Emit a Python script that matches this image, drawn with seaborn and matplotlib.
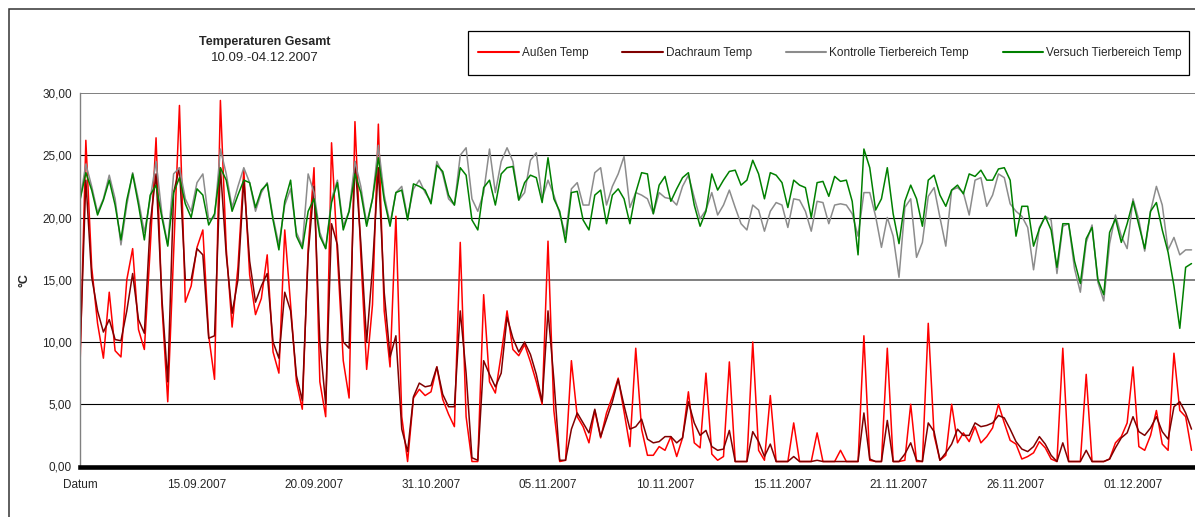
import numpy as np
import pandas as pd
import matplotlib
matplotlib.use("Agg")
import matplotlib.pyplot as plt
import seaborn as sns
from matplotlib.lines import Line2D
from matplotlib.patches import Rectangle

# ---------------- data (4 readings per day, index = reading number) ----------------
series_names = ["Außen Temp", "Dachraum Temp", "Kontrolle Tierbereich Temp", "Versuch Tierbereich Temp"]

aussen = [
    8.0, 26.2, 16.0, 11.5, 8.7, 14.0, 9.3, 8.8, 15.0, 17.5,
    11.0, 9.4, 17.5, 26.4, 13.0, 5.2, 17.0, 29.0, 13.2, 14.5,
    17.6, 19.0, 10.5, 7.0, 29.4, 17.5, 11.2, 16.0, 23.8, 15.4,
    12.2, 13.5, 17.0, 9.2, 7.5, 19.0, 13.0, 6.8, 4.6, 17.5,
    24.0, 6.8, 4.0, 26.0, 17.0, 8.5, 5.5, 27.7, 17.0, 7.8,
    13.0, 27.5, 12.5, 8.0, 20.1, 4.0, 0.4, 5.5, 6.2, 5.7,
    6.0, 8.0, 5.4, 4.2, 3.2, 18.0, 4.0, 0.4, 0.4, 13.8,
    6.8, 5.9, 9.0, 12.5, 9.4, 8.9, 9.8, 8.4, 6.8, 5.0,
    18.1, 4.5, 0.4, 0.5, 8.5, 4.0, 3.2, 1.9, 4.5, 2.3,
    4.3, 5.6, 7.1, 4.4, 1.6, 9.5, 3.0, 0.9, 0.9, 1.6,
    1.3, 2.4, 0.8, 2.3, 6.0, 1.9, 1.5, 7.5, 1.0, 0.5,
    0.8, 8.4, 0.4, 0.4, 0.4, 10.0, 1.3, 0.5, 5.7, 0.4,
    0.4, 0.4, 3.5, 0.4, 0.4, 0.4, 2.7, 0.4, 0.4, 0.4,
    1.3, 0.4, 0.4, 0.4, 10.5, 0.5, 0.4, 0.4, 9.5, 0.4,
    0.4, 0.5, 5.0, 0.4, 0.4, 11.5, 2.5, 0.5, 0.9, 5.0,
    1.9, 2.7, 2.0, 3.2, 1.9, 2.4, 3.1, 5.0, 3.5, 2.1,
    1.8, 0.6, 0.8, 1.1, 2.0, 1.5, 0.6, 0.4, 9.5, 0.4,
    0.4, 0.4, 7.4, 0.4, 0.4, 0.4, 0.6, 1.9, 2.4, 3.5,
    8.0, 1.6, 1.3, 2.5, 4.5, 1.8, 1.3, 9.1, 4.5, 4.0,
    1.3,
]

dachraum = [
    9.0, 23.0, 15.2, 12.5, 10.8, 11.8, 10.2, 10.1, 12.5, 15.5,
    11.8, 10.7, 19.5, 23.5, 13.5, 6.8, 22.0, 24.0, 15.0, 15.0,
    17.5, 17.0, 10.3, 10.5, 24.0, 17.0, 12.3, 15.0, 23.0, 16.5,
    13.2, 14.5, 15.5, 10.0, 8.7, 14.0, 12.5, 7.3, 5.3, 17.0,
    22.5, 10.0, 5.0, 19.5, 17.8, 10.0, 9.5, 24.5, 18.0, 10.0,
    16.0, 24.0, 14.0, 8.8, 10.5, 3.0, 1.2, 5.6, 6.7, 6.4,
    6.5, 8.0, 5.8, 4.8, 4.8, 12.5, 7.5, 0.7, 0.5, 8.5,
    7.4, 6.4, 7.5, 12.0, 10.3, 9.2, 10.0, 9.0, 7.4, 5.2,
    12.5, 7.0, 0.5, 0.5, 3.0, 4.3, 3.5, 2.7, 4.6, 2.4,
    3.8, 5.2, 7.0, 4.9, 3.0, 3.2, 3.8, 2.2, 1.9, 2.0,
    2.4, 2.4, 1.9, 2.3, 5.2, 3.5, 2.5, 2.9, 1.6, 1.3,
    1.4, 2.9, 0.4, 0.4, 0.4, 2.8, 2.0, 0.8, 1.8, 0.4,
    0.4, 0.4, 0.8, 0.4, 0.4, 0.4, 0.5, 0.4, 0.4, 0.4,
    0.4, 0.4, 0.4, 0.4, 4.3, 0.6, 0.4, 0.4, 3.7, 0.4,
    0.4, 1.0, 1.9, 0.5, 0.4, 3.5, 2.8, 0.5, 1.1, 1.8,
    3.0, 2.5, 2.5, 3.5, 3.2, 3.3, 3.5, 4.1, 3.9, 3.0,
    2.0, 1.4, 1.2, 1.6, 2.4, 1.8, 0.9, 0.4, 1.9, 0.4,
    0.4, 0.4, 1.3, 0.4, 0.4, 0.4, 0.6, 1.5, 2.3, 2.7,
    4.0, 2.8, 2.5, 3.1, 4.0, 2.8, 2.2, 4.8, 5.2, 4.3,
    3.0,
]

kontrolle = [
    21.4, 24.3, 22.5, 20.4, 21.5, 23.4, 21.5, 17.8, 21.0, 23.6,
    21.4, 18.8, 21.5, 24.5, 20.3, 17.8, 23.5, 24.0, 21.5, 20.5,
    22.8, 23.5, 19.8, 20.0, 25.5, 23.5, 20.8, 22.5, 24.0, 22.8,
    20.5, 22.0, 22.8, 20.0, 17.8, 21.0, 22.3, 18.8, 17.7, 23.5,
    22.0, 18.8, 17.5, 21.5, 23.0, 19.3, 20.5, 24.5, 22.5, 19.5,
    21.5, 25.8, 21.8, 19.5, 22.0, 22.5, 20.0, 22.3, 23.0, 22.0,
    21.3, 24.5, 23.5, 21.5, 21.0, 25.0, 25.6, 21.5, 20.5, 22.0,
    25.5, 22.0, 24.5, 25.6, 24.5, 21.4, 22.0, 24.6, 25.2, 21.5,
    23.0, 21.8, 20.3, 18.6, 22.3, 22.8, 21.0, 21.0, 23.6, 24.0,
    21.0, 22.5, 23.5, 24.9, 20.8, 22.0, 21.8, 21.5, 20.3, 22.0,
    21.6, 21.5, 21.0, 22.5, 23.4, 21.6, 19.9, 20.6, 22.0, 20.2,
    21.0, 22.2, 20.8, 19.5, 19.0, 21.0, 20.6, 18.9, 20.5, 21.2,
    21.0, 19.2, 21.5, 21.4, 20.5, 18.9, 21.3, 21.2, 19.5, 21.0,
    21.1, 21.0, 20.3, 18.5, 22.0, 22.0, 20.1, 17.6, 20.0, 18.5,
    15.2, 20.8, 21.5, 16.8, 18.0, 21.7, 22.4, 20.0, 17.7, 22.2,
    22.4, 22.0, 20.2, 23.0, 23.2, 20.9, 21.8, 23.5, 23.2, 21.1,
    20.5, 20.1, 19.2, 15.8, 19.2, 20.1, 19.8, 15.5, 19.3, 19.5,
    15.9, 14.0, 18.0, 19.4, 14.8, 13.3, 17.9, 20.2, 18.5, 17.5,
    21.5, 19.8, 17.3, 20.5, 22.5, 21.0, 17.4, 18.4, 17.0, 17.4,
    17.4,
]

versuch = [
    21.4, 23.6, 22.2, 20.2, 21.4, 23.0, 21.0, 18.2, 21.4, 23.5,
    21.0, 18.2, 21.8, 22.6, 20.0, 17.7, 22.0, 23.2, 21.1, 20.0,
    22.3, 21.8, 19.4, 20.3, 24.0, 23.0, 20.5, 21.8, 23.0, 22.8,
    20.8, 22.2, 22.7, 19.8, 17.4, 21.3, 23.0, 18.5, 17.5, 20.5,
    21.5, 18.5, 17.5, 21.2, 22.8, 19.0, 20.5, 23.5, 22.0, 19.3,
    21.5, 24.8, 21.4, 19.3, 22.0, 22.2, 19.8, 22.7, 22.5, 22.2,
    21.1, 24.2, 23.7, 21.8, 21.0, 24.0, 23.4, 19.8, 19.0, 22.4,
    23.0, 21.0, 23.5, 24.0, 24.1, 21.4, 22.8, 23.4, 23.2, 21.2,
    24.8, 21.5, 20.5, 18.0, 22.0, 22.1, 19.8, 19.0, 21.8, 22.2,
    19.5, 21.8, 22.3, 21.5, 19.5, 22.0, 23.6, 23.5, 20.3, 22.6,
    23.3, 21.3, 22.3, 23.2, 23.6, 21.0, 19.3, 20.5, 23.5, 22.2,
    23.0, 23.7, 23.8, 22.6, 23.0, 24.6, 23.5, 21.5, 23.6, 23.4,
    22.8, 20.8, 23.0, 22.6, 22.4, 20.0, 22.8, 22.9, 21.7, 23.3,
    22.9, 23.0, 21.3, 17.0, 25.5, 24.0, 20.6, 21.5, 24.0, 20.3,
    17.9, 21.3, 22.6, 21.5, 19.3, 23.0, 23.4, 21.8, 20.9, 22.2,
    22.6, 21.9, 23.5, 23.3, 23.8, 23.0, 23.0, 23.9, 24.0, 23.0,
    18.5, 20.9, 20.9, 17.7, 19.1, 20.1, 19.0, 16.0, 19.5, 19.5,
    16.5, 14.7, 18.3, 19.2, 15.0, 13.8, 18.8, 19.9, 18.0, 19.5,
    21.3, 19.4, 17.5, 20.5, 21.2, 19.0, 17.2, 14.5, 11.1, 16.0,
    16.3,
]

x_tick_labels = ["Datum", "15.09.2007", "20.09.2007", "31.10.2007", "05.11.2007",
                 "10.11.2007", "15.11.2007", "21.11.2007", "26.11.2007", "01.12.2007"]
readings_per_label = 20
y_ticks = [0, 5, 10, 15, 20, 25, 30]
y_tick_labels = ["0,00", "5,00", "10,00", "15,00", "20,00", "25,00", "30,00"]

title = "Temperaturen Gesamt"
subtitle = "10.09.-04.12.2007"
y_label = "°C"

# ---------------- styling ----------------
colors = {"Außen Temp": "#ff0000",
          "Dachraum Temp": "#800000",
          "Kontrolle Tierbereich Temp": "#8c8c8c",
          "Versuch Tierbereich Temp": "#008000"}

sns.set_style("white")
plt.rcParams["font.family"] = ["Liberation Sans", "DejaVu Sans"]

W, H = 1195, 517
fig = plt.figure(figsize=(W / 100, H / 100), dpi=100)
fig.patch.set_facecolor("white")

# plot area: x 80 -> right edge, y 466.5 (0) -> 93 (30)
ax = fig.add_axes([80 / W, 1 - 466.5 / H, (W - 80) / W, (466.5 - 93) / H])

frames = []
for name, vals in zip(series_names, [aussen, dachraum, kontrolle, versuch]):
    frames.append(pd.DataFrame({"t": np.arange(len(vals)), "temp": vals, "series": name}))
df = pd.concat(frames, ignore_index=True)

sns.lineplot(data=df, x="t", y="temp", hue="series", hue_order=series_names,
             palette=colors, estimator=None, sort=False, legend=False,
             linewidth=1.1, ax=ax)

n_px_per_step = 5.85
ax.set_xlim(0, (W - 80) / n_px_per_step)
ax.set_ylim(0, 30)

ax.set_yticks(y_ticks)
ax.set_yticklabels(y_tick_labels, fontsize=8.5)
ax.set_xticks([i * readings_per_label for i in range(len(x_tick_labels))])
ax.set_xticklabels(x_tick_labels, fontsize=8.5)

ax.tick_params(axis="y", direction="out", length=4, width=0.8, color="#808080", pad=2)
ax.tick_params(axis="x", length=0, pad=9)

ax.grid(axis="y", color="black", linewidth=0.8)
ax.grid(axis="x", visible=False)
gl = ax.get_ygridlines()
for val, line in zip(y_ticks, gl):
    if val in (15, 30):
        line.set_color("#7f7f7f")
        line.set_linewidth(1.4)
ax.set_axisbelow(True)

for s in ["top", "right"]:
    ax.spines[s].set_visible(False)
ax.spines["left"].set_color("#808080")
ax.spines["left"].set_linewidth(1.0)
ax.spines["bottom"].set_color("black")
ax.spines["bottom"].set_linewidth(3.3)
ax.spines["bottom"].set_zorder(5)

ax.set_xlabel("")
ax.set_ylabel(y_label, fontsize=9, fontweight="bold")
ax.yaxis.set_label_coords(-(80 - 30) / (W - 80), 0.5)

# titles
fig.text(265 / W, 1 - 42 / H, title, ha="center", va="center", fontsize=9, fontweight="bold")
fig.text(265 / W, 1 - 58 / H, subtitle, ha="center", va="center", fontsize=9.5)

# legend box and entries
fig.patches.append(Rectangle((468 / W, 1 - 75 / H), (1189 - 468) / W, 44 / H,
                             transform=fig.transFigure, fill=False, edgecolor="black",
                             linewidth=0.9))
handles = [Line2D([0], [0], color=colors[n], lw=1.5) for n in series_names]
fig.legend(handles, series_names, ncol=4, loc="center",
           bbox_to_anchor=(830 / W, 1 - 53 / H), frameon=False, fontsize=8.5,
           handlelength=3.4, handletextpad=0.25, columnspacing=2.9, borderpad=0)

# outer chart border (left and top visible)
fig.patches.append(Rectangle((9 / W, -0.5), 2.0, 1.5 - 9 / H, transform=fig.transFigure,
                             fill=False, edgecolor="#333333", linewidth=1.1))

fig.savefig("out.png", dpi=100, facecolor="white")
